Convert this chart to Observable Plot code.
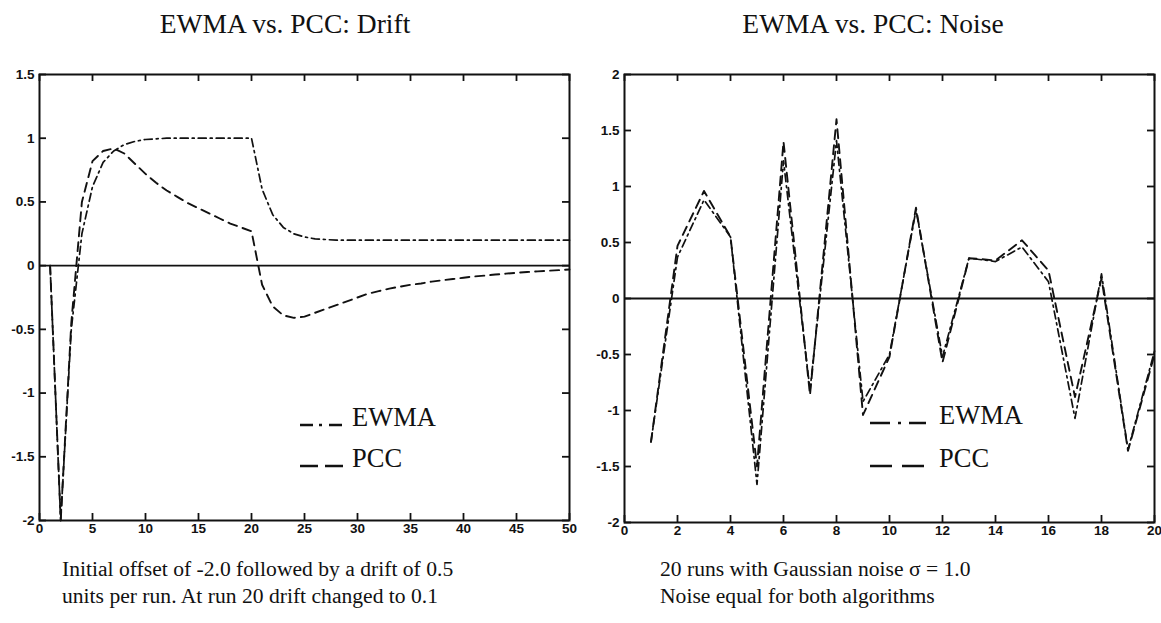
<!DOCTYPE html>
<html>
<head>
<meta charset="utf-8">
<script src="https://cdn.jsdelivr.net/npm/d3@7"></script>
<script src="https://cdn.jsdelivr.net/npm/@observablehq/plot@0.6"></script>
<style>
  html, body { margin: 0; padding: 0; background: #fff; }
  body { width: 1161px; height: 623px; position: relative; overflow: hidden;
         font-family: "Liberation Serif", "Times New Roman", serif; color: #111; }
  .title { position: absolute; top: 10px; font-size: 27.5px; line-height: 27px; text-align: center; white-space: nowrap; }
  .caption { position: absolute; top: 556px; font-size: 21.6px; line-height: 27px; white-space: nowrap; }
  .chart { position: absolute; top: 50px; }
  #legend { position: absolute; left: 0; top: 0; pointer-events: none; }
</style>
</head>
<body>
<div class="title" style="left:0;width:570px;">EWMA vs. PCC: Drift</div>
<div class="title" style="left:583px;width:580px;">EWMA vs. PCC: Noise</div>
<div id="left" class="chart" style="left:0;"></div>
<div id="right" class="chart" style="left:580px;"></div>
<div class="caption" style="left:62px;">Initial offset of -2.0 followed by a drift of 0.5<br>units per run. At run 20 drift changed to 0.1</div>
<div class="caption" style="left:660px;">20 runs with Gaussian noise σ = 1.0<br>Noise equal for both algorithms</div>
<svg id="legend" width="1161" height="623"></svg>
<script>
// ---- Drift chart data (runs 1..50) ----
const driftRuns = d3.range(1, 51);
const driftEWMA = [0, -2, -0.5, 0.25, 0.62, 0.81, 0.9, 0.95, 0.975, 0.99,
  0.995, 1, 1, 1, 1, 1, 1, 1, 1, 1,
  0.6, 0.4, 0.3, 0.25, 0.225, 0.21, 0.205, 0.2, 0.2, 0.2,
  0.2, 0.2, 0.2, 0.2, 0.2, 0.2, 0.2, 0.2, 0.2, 0.2,
  0.2, 0.2, 0.2, 0.2, 0.2, 0.2, 0.2, 0.2, 0.2, 0.2];
const driftPCC = [0, -2, -0.45, 0.5, 0.82, 0.9, 0.92, 0.88, 0.8, 0.72,
  0.65, 0.59, 0.54, 0.49, 0.45, 0.41, 0.37, 0.33, 0.3, 0.27,
  -0.15, -0.32, -0.39, -0.41, -0.4, -0.37, -0.34, -0.31, -0.28, -0.25,
  -0.22, -0.2, -0.18, -0.165, -0.15, -0.14, -0.125, -0.115, -0.105, -0.095,
  -0.085, -0.078, -0.07, -0.063, -0.056, -0.05, -0.045, -0.04, -0.035, -0.03];
const driftXTicks = [0, 5, 10, 15, 20, 25, 30, 35, 40, 45, 50];
const driftYTicks = [-2, -1.5, -1, -0.5, 0, 0.5, 1, 1.5];

// ---- Noise chart data (runs 1..20) ----
const noiseRuns = d3.range(1, 21);
const noiseEWMA = [-1.28, 0.37, 0.88, 0.55, -1.66, 1.23, -0.82, 1.41, -0.92, -0.5,
  0.79, -0.52, 0.36, 0.33, 0.46, 0.15, -1.07, 0.22, -1.35, -0.47];
const noisePCC = [-1.28, 0.47, 0.96, 0.55, -1.5, 1.4, -0.86, 1.6, -1.04, -0.52,
  0.81, -0.57, 0.36, 0.34, 0.52, 0.25, -0.88, 0.18, -1.36, -0.5];
const noiseXTicks = [0, 2, 4, 6, 8, 10, 12, 14, 16, 18, 20];
const noiseYTicks = [-2, -1.5, -1, -0.5, 0, 0.5, 1, 1.5, 2];

const seriesNames = ["EWMA", "PCC"];

const EWMA_DASH = "8,4,2,4";
const PCC_DASH = "9,6";
const INK = "#111";

function makeChart({runs, ewma, pcc, xTicks, yTicks, width, marginLeft, marginRight, marginBottom}) {
  const height = 490, marginTop = 24;
  const xd = [d3.min(xTicks), d3.max(xTicks)];
  const yd = [d3.min(yTicks), d3.max(yTicks)];
  const tickPx = 7;
  const innerW = width - marginLeft - marginRight;
  const innerH = height - marginTop - marginBottom;
  const tx = tickPx * (xd[1] - xd[0]) / innerW;
  const ty = tickPx * (yd[1] - yd[0]) / innerH;
  const fmt = d => String(d);
  const font = {fontSize: 13.5, fontFamily: "Liberation Sans, Arial, sans-serif", fontWeight: "bold"};
  const tickStyle = {stroke: INK, strokeWidth: 1.8};
  return Plot.plot({
    width, height, marginLeft, marginRight, marginTop, marginBottom,
    x: {domain: xd},
    y: {domain: yd},
    style: {background: "white", color: INK, overflow: "visible"},
    marks: [
      Plot.ruleY([0], {stroke: INK, strokeWidth: 1.8}),
      Plot.line(pcc, {x: (d, i) => runs[i], y: d => d, stroke: INK, strokeWidth: 1.9, strokeDasharray: PCC_DASH}),
      Plot.line(ewma, {x: (d, i) => runs[i], y: d => d, stroke: INK, strokeWidth: 1.7, strokeDasharray: EWMA_DASH}),
      // inward ticks on all four sides
      Plot.ruleX(xTicks, {x: d => d, y1: yd[0], y2: yd[0] + ty, ...tickStyle}),
      Plot.ruleX(xTicks, {x: d => d, y1: yd[1], y2: yd[1] - ty, ...tickStyle}),
      Plot.ruleY(yTicks, {y: d => d, x1: xd[0], x2: xd[0] + tx, ...tickStyle}),
      Plot.ruleY(yTicks, {y: d => d, x1: xd[1], x2: xd[1] - tx, ...tickStyle}),
      Plot.frame({stroke: INK, strokeWidth: 2}),
      Plot.axisX(xTicks, {anchor: "bottom", tickSize: 0, tickPadding: 3, tickFormat: fmt, label: null, fill: INK, ...font}),
      Plot.axisY(yTicks, {anchor: "left", tickSize: 0, tickPadding: 5, tickFormat: fmt, label: null, fill: INK, ...font})
    ]
  });
}

document.getElementById("left").append(makeChart({
  runs: driftRuns, ewma: driftEWMA, pcc: driftPCC, xTicks: driftXTicks, yTicks: driftYTicks,
  width: 580, marginLeft: 39, marginRight: 11, marginBottom: 20
}));
document.getElementById("right").append(makeChart({
  runs: noiseRuns, ewma: noiseEWMA, pcc: noisePCC, xTicks: noiseXTicks, yTicks: noiseYTicks,
  width: 581, marginLeft: 44, marginRight: 7, marginBottom: 18
}));

// ---- Legends (drawn inside each panel, as in the original) ----
const legend = d3.select("#legend");
function drawLegend(x0, len, dashE, dashP, textX, yE, yP) {
  const dashes = [dashE, dashP];
  const ys = [yE, yP];
  seriesNames.forEach((name, i) => {
    legend.append("line").attr("x1", x0).attr("x2", x0 + len).attr("y1", ys[i]).attr("y2", ys[i])
      .attr("stroke", INK).attr("stroke-width", 2.6).attr("stroke-dasharray", dashes[i]);
    legend.append("text").attr("x", textX).attr("y", ys[i] + 1).text(name)
      .attr("font-family", "Liberation Serif, Times New Roman, serif").attr("font-size", 26.5).attr("fill", INK);
  });
}
drawLegend(300, 43, "13,6,3,7", "18,7", 352, 425, 466);
drawLegend(870, 56, "20,8,3,8", "22,10", 939, 423, 466);
</script>
</body>
</html>
